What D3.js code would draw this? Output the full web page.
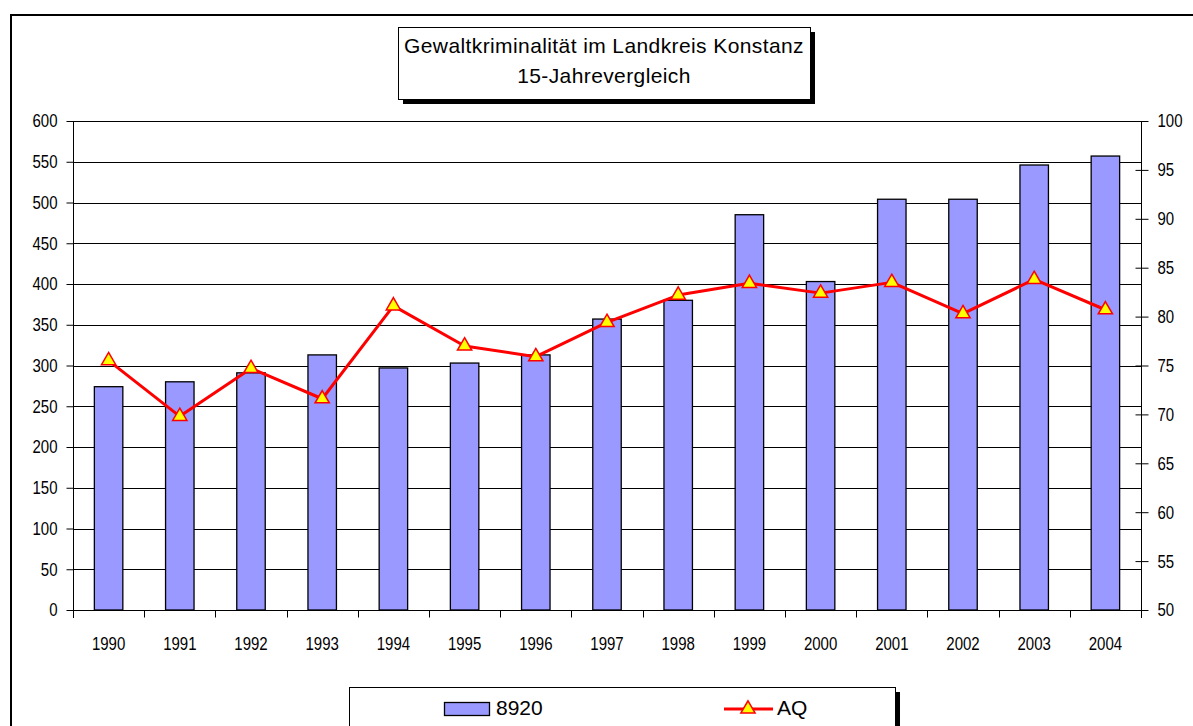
<!DOCTYPE html>
<html>
<head>
<meta charset="utf-8">
<script src="https://cdn.jsdelivr.net/npm/d3@7"></script>
<style>
  body { margin: 0; background: #fff; }
  text { font-family: "Liberation Sans", Arial, sans-serif; fill: #000; }
</style>
</head>
<body>
<svg id="viz"></svg>
<script>
// data
var years = ['1990','1991','1992','1993','1994','1995','1996','1997','1998','1999','2000','2001','2002','2003','2004'];
var cases = [274, 280, 291, 313, 297, 303, 313, 357, 380, 485, 403, 504, 504, 546, 557];   // 8920 (bars, left axis)
var aq = [75.5, 69.8, 74.7, 71.6, 81.1, 77.0, 75.9, 79.4, 82.2, 83.4, 82.4, 83.5, 80.3, 83.8, 80.7]; // AQ (line, right axis)
var leftTicks = [0, 50, 100, 150, 200, 250, 300, 350, 400, 450, 500, 550, 600];
var rightTicks = [50, 55, 60, 65, 70, 75, 80, 85, 90, 95, 100];
var titleLines = ['Gewaltkriminalität im Landkreis Konstanz', '15-Jahrevergleich'];
var seriesNames = ['8920', 'AQ'];

var width = 1193, height = 726;
var plot = { left: 73, right: 1141, top: 121, bottom: 610 };

var barColor = '#9999ff';
// axis labels in the original are narrow and tall
var tickFont = '15px';
var tickStretch = 'scale(1,1.24)';

var svg = d3.select('#viz')
            .attr('width', width)
            .attr('height', height);

svg.append('rect').attr('width', width).attr('height', height).attr('fill', '#fff');

// outer chart frame
svg.append('rect')
   .attr('x', 11).attr('y', 15)
   .attr('width', 1220).attr('height', 800)
   .attr('fill', 'none').attr('stroke', '#000').attr('stroke-width', 2);

var xScale = d3.scaleBand()
               .domain(years)
               .range([plot.left, plot.right]);

var yLeft = d3.scaleLinear()
              .domain([0, 600])
              .range([plot.bottom, plot.top]);

var yRight = d3.scaleLinear()
               .domain([50, 100])
               .range([plot.bottom, plot.top]);

// gridlines
svg.append('g')
   .selectAll('line')
   .data(leftTicks)
   .enter().append('line')
   .attr('x1', plot.left).attr('x2', plot.right)
   .attr('y1', d => Math.round(yLeft(d)) + 0.5)
   .attr('y2', d => Math.round(yLeft(d)) + 0.5)
   .attr('stroke', '#000').attr('stroke-width', 1);

// bars
var bw = xScale.bandwidth();
var barW = bw * 0.4;
svg.append('g')
   .selectAll('rect')
   .data(cases)
   .enter().append('rect')
   .attr('x', (d, i) => xScale(years[i]) + (bw - barW) / 2)
   .attr('y', d => yLeft(d))
   .attr('width', barW)
   .attr('height', d => plot.bottom - yLeft(d))
   .attr('fill', barColor)
   .attr('stroke', '#000').attr('stroke-width', 1.3);

// left axis
var leftAxis = d3.axisLeft(yLeft).tickValues(leftTicks).tickSize(7).tickPadding(9);
var gl = svg.append('g').attr('transform', `translate(${plot.left + 0.5},0)`).call(leftAxis);
gl.select('.domain').remove();
gl.append('line').attr('x1', 0).attr('x2', 0).attr('y1', plot.top).attr('y2', plot.bottom + 8).attr('stroke', '#000');
gl.selectAll('text').style('font-size', tickFont).attr('transform', tickStretch);

// right axis, ticks crossing the line
var rightAxis = d3.axisRight(yRight).tickValues(rightTicks).tickSize(7).tickPadding(9);
var gr = svg.append('g').attr('transform', `translate(${plot.right + 0.5},0)`).call(rightAxis);
gr.select('.domain').remove();
gr.selectAll('.tick line').attr('x1', -6);
gr.append('line').attr('x1', 0).attr('x2', 0).attr('y1', plot.top).attr('y2', plot.bottom + 8).attr('stroke', '#000');
gr.selectAll('text').style('font-size', tickFont).attr('transform', tickStretch);

// bottom axis: ticks at category boundaries
var gb = svg.append('g').attr('transform', `translate(0,${plot.bottom + 0.5})`);
gb.append('line').attr('x1', plot.left).attr('x2', plot.right).attr('stroke', '#000');
gb.selectAll('line.b')
  .data(years)
  .enter().append('line')
  .attr('class', 'b')
  .attr('x1', d => Math.round(xScale(d)) + 0.5)
  .attr('x2', d => Math.round(xScale(d)) + 0.5)
  .attr('y1', 0).attr('y2', 7)
  .attr('stroke', '#000');
gb.selectAll('g.lab')
  .data(years)
  .enter().append('g')
  .attr('class', 'lab')
  .attr('transform', d => `translate(${xScale(d) + bw / 2},33) ${tickStretch}`)
  .append('text')
  .attr('text-anchor', 'middle')
  .attr('dy', '0.35em')
  .style('font-size', tickFont)
  .text(d => d);

// AQ line
var line = d3.line()
             .x((d, i) => xScale(years[i]) + bw / 2)
             .y(d => yRight(d));

svg.append('path')
   .datum(aq)
   .attr('d', line)
   .attr('fill', 'none')
   .attr('stroke', '#ff0000')
   .attr('stroke-width', 3)
   .attr('stroke-linejoin', 'round');

var tri = d3.symbol().type(d3.symbolTriangle).size(88);
svg.append('g')
   .selectAll('path')
   .data(aq)
   .enter().append('path')
   .attr('d', tri)
   .attr('transform', (d, i) => `translate(${xScale(years[i]) + bw / 2},${yRight(d)})`)
   .attr('fill', '#ffff00')
   .attr('stroke', '#ff0000')
   .attr('stroke-width', 1.5);

// title box with shadow
var tb = { x: 398, y: 27, w: 412, h: 72 };
svg.append('rect').attr('x', tb.x + 5).attr('y', tb.y + 5).attr('width', tb.w).attr('height', tb.h).attr('fill', '#000');
svg.append('rect').attr('x', tb.x + 0.5).attr('y', tb.y + 0.5).attr('width', tb.w).attr('height', tb.h)
   .attr('fill', '#fff').attr('stroke', '#000').attr('stroke-width', 1);
svg.append('g')
   .selectAll('text')
   .data(titleLines)
   .enter().append('text')
   .attr('x', tb.x + tb.w / 2)
   .attr('y', (d, i) => 47 + i * 30)
   .attr('text-anchor', 'middle')
   .attr('dominant-baseline', 'middle')
   .style('font-size', '21px')
   .style('letter-spacing', '0.4px')
   .text(d => d);

// legend box with shadow
var lb = { x: 349, y: 687, w: 546, h: 60 };
svg.append('rect').attr('x', lb.x + 5).attr('y', lb.y + 5).attr('width', lb.w).attr('height', lb.h).attr('fill', '#000');
svg.append('rect').attr('x', lb.x + 0.5).attr('y', lb.y + 0.5).attr('width', lb.w).attr('height', lb.h)
   .attr('fill', '#fff').attr('stroke', '#000').attr('stroke-width', 1);

var legY = 709;
svg.append('rect').attr('x', 444.5).attr('y', legY - 6.5).attr('width', 45).attr('height', 13)
   .attr('fill', barColor).attr('stroke', '#000').attr('stroke-width', 1.3);
svg.append('text').attr('x', 496).attr('y', legY).attr('dominant-baseline', 'middle')
   .style('font-size', '21px').text(seriesNames[0]);

svg.append('line').attr('x1', 724).attr('x2', 773).attr('y1', legY).attr('y2', legY)
   .attr('stroke', '#ff0000').attr('stroke-width', 3);
svg.append('path').attr('d', tri).attr('transform', `translate(748,${legY})`)
   .attr('fill', '#ffff00').attr('stroke', '#ff0000').attr('stroke-width', 1.5);
svg.append('text').attr('x', 777).attr('y', legY).attr('dominant-baseline', 'middle')
   .style('font-size', '21px').text(seriesNames[1]);
</script>
</body>
</html>
